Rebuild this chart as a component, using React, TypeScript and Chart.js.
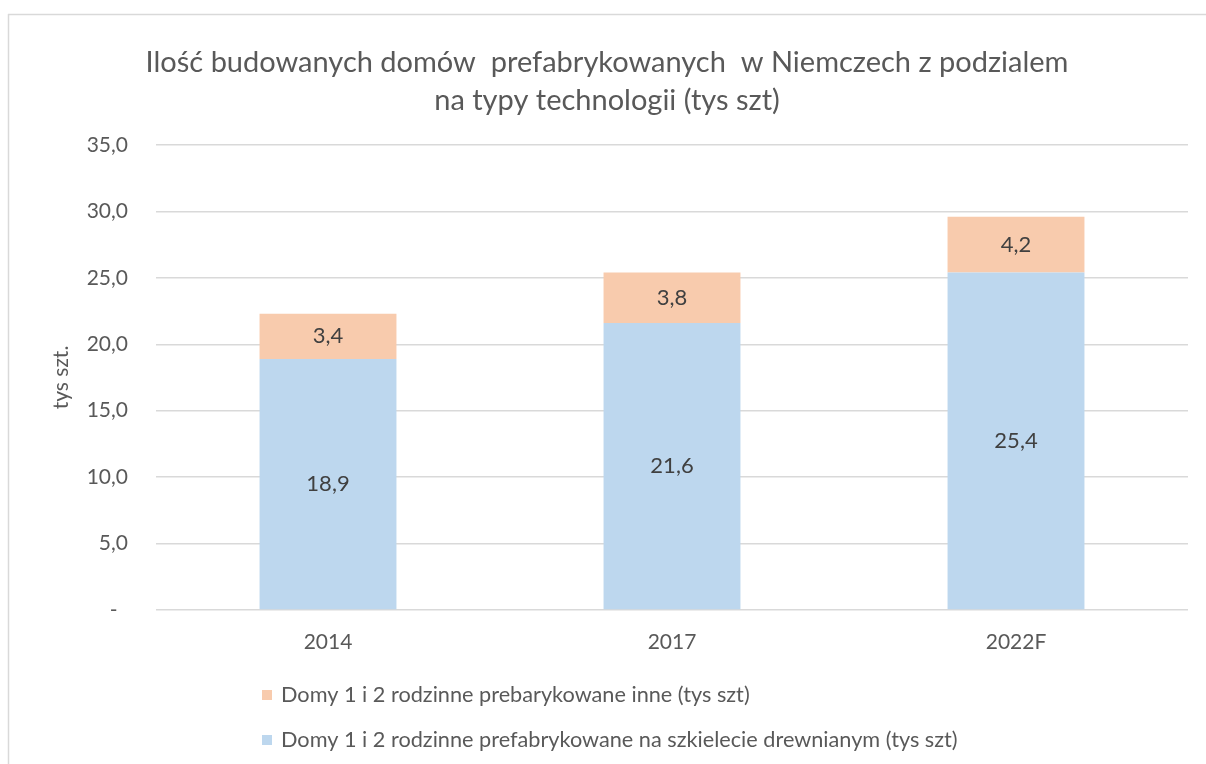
import React, { useEffect, useRef } from 'react';
import { Chart, registerables } from 'chart.js';

Chart.register(...registerables);

const categories = ['2014', '2017', '2022F'];
const woodFrameValues = [18.9, 21.6, 25.4];
const otherValues = [3.4, 3.8, 4.2];
const seriesLabels = [
  'Domy 1 i 2 rodzinne prefabrykowane na szkielecie drewnianym (tys szt)',
  'Domy 1 i 2 rodzinne prebarykowane inne (tys szt)',
];
const titleLines = [
  'Ilość budowanych domów  prefabrykowanych  w Niemczech z podzialem',
  'na typy technologii (tys szt)',
];
const yAxisTitle = 'tys szt.';
const yMin = 0;
const yMax = 35;
const yStep = 5;

const FONT = 'Lato, "Open Sans", "DejaVu Sans", sans-serif';
const TEXT = '#595959';
const LABEL = '#404040';
const BLUE = '#BDD7EE';
const ORANGE = '#F8CBAD';
const GRID = '#D9D9D9';

const fmt = (v: number) => v.toFixed(1).replace('.', ',');

const framePlugin = {
  id: 'frame',
  beforeDraw(chart: any) {
    const { ctx, width, height } = chart;
    ctx.save();
    ctx.fillStyle = '#ffffff';
    ctx.fillRect(0, 0, width, height);
    ctx.strokeStyle = '#D9D9D9';
    ctx.lineWidth = 1.5;
    ctx.beginPath();
    ctx.moveTo(8, 14.5);
    ctx.lineTo(width, 14.5);
    ctx.moveTo(8.5, 14);
    ctx.lineTo(8.5, height);
    ctx.stroke();
    ctx.restore();
  },
};

const valueLabelPlugin = {
  id: 'valueLabels',
  afterDatasetsDraw(chart: any) {
    const { ctx } = chart;
    ctx.save();
    ctx.font = `22px ${FONT}`;
    ctx.fillStyle = LABEL;
    ctx.textAlign = 'center';
    ctx.textBaseline = 'middle';
    chart.data.datasets.forEach((ds: any, di: number) => {
      const meta = chart.getDatasetMeta(di);
      meta.data.forEach((bar: any, i: number) => {
        const v = ds.data[i];
        const y = (bar.y + bar.base) / 2;
        ctx.fillText(fmt(v), bar.x, y);
      });
    });
    ctx.restore();
  },
};

const legendPlugin = {
  id: 'stackedLegend',
  afterDraw(chart: any) {
    const { ctx } = chart;
    const items = chart.data.datasets
      .map((ds: any) => ({ label: ds.label, color: ds.backgroundColor }))
      .reverse();
    ctx.save();
    ctx.font = `21.7px ${FONT}`;
    ctx.textAlign = 'left';
    ctx.textBaseline = 'middle';
    items.forEach((it: any, i: number) => {
      const cy = 695 + i * 45;
      ctx.fillStyle = it.color;
      ctx.fillRect(262, cy - 5, 10, 10);
      ctx.fillStyle = TEXT;
      ctx.fillText(it.label, 281, cy);
    });
    ctx.restore();
  },
};

export default function App() {
  const ref = useRef<HTMLCanvasElement | null>(null);
  useEffect(() => {
    document.body.style.margin = '0';
    if (!ref.current) return;
    const chart = new Chart(ref.current, {
      type: 'bar',
      data: {
        labels: categories,
        datasets: [
          {
            label: seriesLabels[0],
            data: woodFrameValues,
            backgroundColor: BLUE,
            borderWidth: 0,
            categoryPercentage: 1,
            barPercentage: 0.398,
          },
          {
            label: seriesLabels[1],
            data: otherValues,
            backgroundColor: ORANGE,
            borderWidth: 0,
            categoryPercentage: 1,
            barPercentage: 0.398,
          },
        ],
      },
      options: {
        animation: false,
        responsive: false,
        layout: { padding: { left: 26, right: 18, top: 0, bottom: 0 } },
        plugins: {
          legend: { display: false },
          tooltip: { enabled: false },
          title: {
            display: true,
            text: titleLines,
            color: TEXT,
            font: { family: FONT, size: 29, weight: 'normal', lineHeight: 1.3 },
            padding: { top: 44, bottom: 25.6 },
          },
        },
        scales: {
          x: {
            stacked: true,
            grid: { display: false, drawTicks: false },
            border: { display: false },
            ticks: { color: TEXT, font: { family: FONT, size: 21 }, padding: 20 },
            afterFit: (s: any) => {
              s.height = 154;
            },
          },
          y: {
            stacked: true,
            min: yMin,
            max: yMax,
            ticks: {
              stepSize: yStep,
              padding: 28,
              color: TEXT,
              font: { family: FONT, size: 21 },
              callback: (v: any) => (Number(v) === 0 ? '-\u2002' : fmt(Number(v))),
            },
            grid: { color: GRID, lineWidth: 1.5, drawTicks: false },
            border: { display: false },
            title: {
              display: true,
              text: yAxisTitle,
              color: TEXT,
              font: { family: FONT, size: 21 },
              padding: { top: 23, bottom: 0 },
            },
            afterFit: (s: any) => {
              s.width = 130;
            },
          },
        },
      },
      plugins: [framePlugin, valueLabelPlugin, legendPlugin],
    });
    return () => chart.destroy();
  }, []);
  return (
    <div style={{ width: 1206, height: 764 }}>
      <canvas ref={ref} width={1206} height={764} style={{ display: 'block' }} />
    </div>
  );
}
